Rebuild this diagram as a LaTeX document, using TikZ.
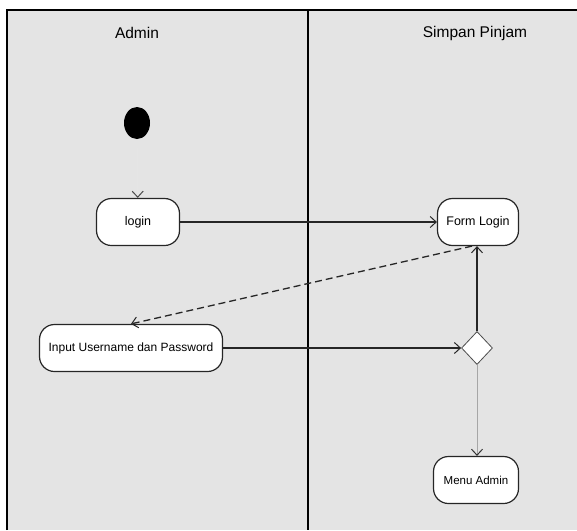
\documentclass[tikz,border=0pt]{standalone}
\usepackage{fontspec}
\setmainfont{Liberation Sans}
\usetikzlibrary{arrows.meta,shapes.geometric}
\definecolor{lanebg}{HTML}{E4E4E4}
\tikzset{
  act/.style={draw=black!85, fill=white, rounded corners=15pt, line width=1.2pt,
    minimum height=47pt, inner sep=2pt, font=\fontsize{12.5}{14}\selectfont},
  decision/.style={draw=black!70, fill=white, diamond, aspect=0.95, minimum width=31pt,
    minimum height=33pt, inner sep=0pt, line width=0.8pt},
  flow/.style={draw=black!85, line width=1.3pt, -{Straight Barb[length=6pt,width=11pt,line width=1pt]}},
  faintflow/.style={draw=black!35, line width=1pt, -{Straight Barb[length=6pt,width=11pt,line width=1pt,color=black!80]}},
  hiddenflow/.style={draw=black!10, line width=1pt, -{Straight Barb[length=6pt,width=11pt,line width=1pt,color=black!70]}},
  lane/.style={draw=black, line width=1.8pt},
  lanetitle/.style={font=\fontsize{15.5}{18}\selectfont}
}
\begin{document}
\begin{tikzpicture}[x=1pt,y=-1pt]
\useasboundingbox (0,0) rectangle (577,530);
\fill[lanebg] (7,10) rectangle (577,530);
\draw[lane] (7,530) -- (7,10) -- (577,10);
\draw[lane] (308,10) -- (308,530);
\node[lanetitle] (tadmin) at (137,33) {Admin};
\node[lanetitle] (tsp) at (475,33) {Simpan Pinjam};

\node[fill=black, ellipse, minimum width=26pt, minimum height=32pt, inner sep=0pt] (start) at (137,123) {};
\node[act, minimum width=83pt] (login) at (138,222) {login};
\node[act, minimum width=81pt] (form) at (478,222) {Form Login};
\node[act, minimum width=183pt, font=\fontsize{12}{14}\selectfont] (input) at (131,348) {Input Username dan Password};
\node[decision] (dec) at (477,348) {};
\node[act, minimum width=85pt, font=\fontsize{11.5}{14}\selectfont] (menu) at (476,480) {Menu Admin};

\coordinate (fs) at ([xshift=-6pt]form.south);
\draw[hiddenflow] (start) -- (login);
\draw[flow] (login) -- (form);
\draw[flow, dash pattern=on 7pt off 4pt] (fs) -- (input.north);
\draw[flow] (input) -- (dec);
\draw[flow] (dec.north) -- (dec.north |- form.south);
\draw[faintflow] (dec.south) -- (dec.south |- menu.north);
\end{tikzpicture}
\end{document}
